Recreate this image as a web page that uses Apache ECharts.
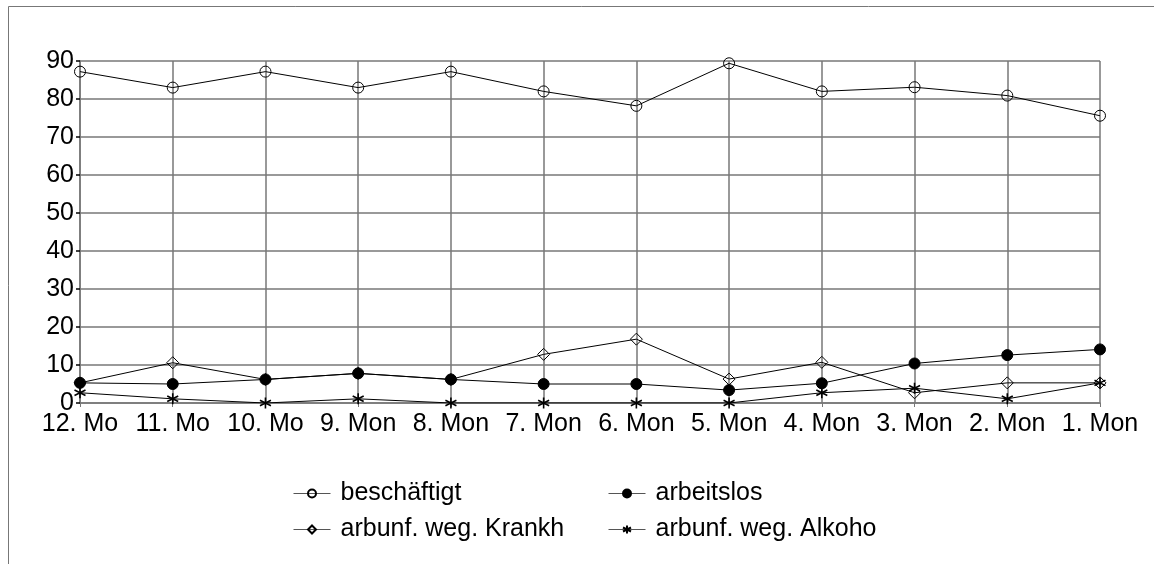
<!DOCTYPE html>
<html>
<head>
<meta charset="utf-8">
<script src="https://cdn.jsdelivr.net/npm/echarts@6/dist/echarts.min.js"></script>
<style>
  html, body { margin: 0; padding: 0; background: #fff; }
  #chart { width: 1154px; height: 564px; }
</style>
</head>
<body>
<div id="chart"></div>
<script>
// Monate (x-Achse)
const months = ['12. Mo', '11. Mo', '10. Mo', '9. Mon', '8. Mon', '7. Mon', '6. Mon', '5. Mon', '4. Mon', '3. Mon', '2. Mon', '1. Mon']
// Werte in Prozent
const beschaeftigt = [87.2, 83, 87.2, 83, 87.2, 82, 78.2, 89.4, 82, 83.1, 80.9, 75.6]
const arbeitslos = [5.3, 5, 6.2, 7.8, 6.2, 5, 5, 3.4, 5.2, 10.4, 12.6, 14.1]
const krankh = [5.3, 10.6, 6.2, 7.8, 6.2, 12.8, 16.8, 6.3, 10.7, 2.7, 5.3, 5.3]
const alkoho = [2.7, 1.1, 0, 1.1, 0, 0, 0, 0, 2.7, 3.9, 1.1, 5.3]
const yTicks = [0, 90, 10]

const font = "'Liberation Sans', Arial, sans-serif"
const gridColor = '#777'
// Sternchen als Symbol
const star = 'path://M0,-5L0,5M-4.33,-2.5L4.33,2.5M-4.33,2.5L4.33,-2.5'

const myChart = echarts.init(document.getElementById('chart'))

function lineSeries(name, data, symbol, size, fill, bw) {
  return {
    name: name,
    type: 'line',
    data: data,
    symbol: symbol,
    symbolSize: size,
    showAllSymbol: true,
    lineStyle: { color: '#000', width: 1 },
    itemStyle: { color: fill, borderColor: '#000', borderWidth: bw || 1 },
    emphasis: { disabled: true }
  }
}

const legendText = { fontSize: 25, color: '#000', fontFamily: font, padding: [0, 0, 0, 5] }
const legendLine = { width: 1, color: '#555' }

myChart.setOption({
  animation: false,
  textStyle: { fontFamily: font },
  graphic: [
    {
      type: 'rect',
      shape: { x: 8.5, y: 6.5, width: 1300, height: 700 },
      style: { fill: 'none', stroke: '#777', lineWidth: 1 },
      silent: true
    }
  ],
  legend: [
    {
      orient: 'vertical',
      left: 288,
      top: 476,
      itemWidth: 37,
      itemHeight: 10,
      itemGap: 11,
      lineStyle: legendLine,
      textStyle: legendText,
      data: ['beschäftigt', 'arbunf. weg. Krankh']
    },
    {
      orient: 'vertical',
      left: 603,
      top: 476,
      itemWidth: 37,
      itemHeight: 10,
      itemGap: 11,
      lineStyle: legendLine,
      textStyle: legendText,
      data: ['arbeitslos', 'arbunf. weg. Alkoho']
    }
  ],
  grid: {
    left: 80,
    right: 54,
    top: 61,
    bottom: 161
  },
  xAxis: {
    type: 'category',
    boundaryGap: false,
    data: months,
    axisLine: { lineStyle: { color: gridColor, width: 1.5 } },
    axisTick: { show: true, length: 4, interval: 0, lineStyle: { color: gridColor } },
    axisLabel: { interval: 0, color: '#000', fontSize: 25, fontFamily: font, margin: 9 },
    splitLine: { show: true, interval: 0, lineStyle: { color: gridColor, width: 1.5 } }
  },
  yAxis: {
    type: 'value',
    min: yTicks[0],
    max: yTicks[1],
    interval: yTicks[2],
    axisLine: { show: true, lineStyle: { color: gridColor, width: 1.5 } },
    axisTick: { show: true, length: 4, lineStyle: { color: '#000', width: 1.5 } },
    axisLabel: { color: '#000', fontSize: 25, fontFamily: font, margin: 6 },
    splitLine: { show: true, lineStyle: { color: gridColor, width: 1.5 } }
  },
  series: [
    lineSeries('beschäftigt', beschaeftigt, 'circle', 11, 'rgba(255,255,255,0)'),
    lineSeries('arbunf. weg. Krankh', krankh, 'diamond', 12, 'rgba(255,255,255,0)'),
    lineSeries('arbeitslos', arbeitslos, 'circle', 11, '#000'),
    lineSeries('arbunf. weg. Alkoho', alkoho, star, 11, '#000', 1.6)
  ]
})

window.addEventListener('resize', () => {
  myChart.resize()
})
</script>
</body>
</html>
